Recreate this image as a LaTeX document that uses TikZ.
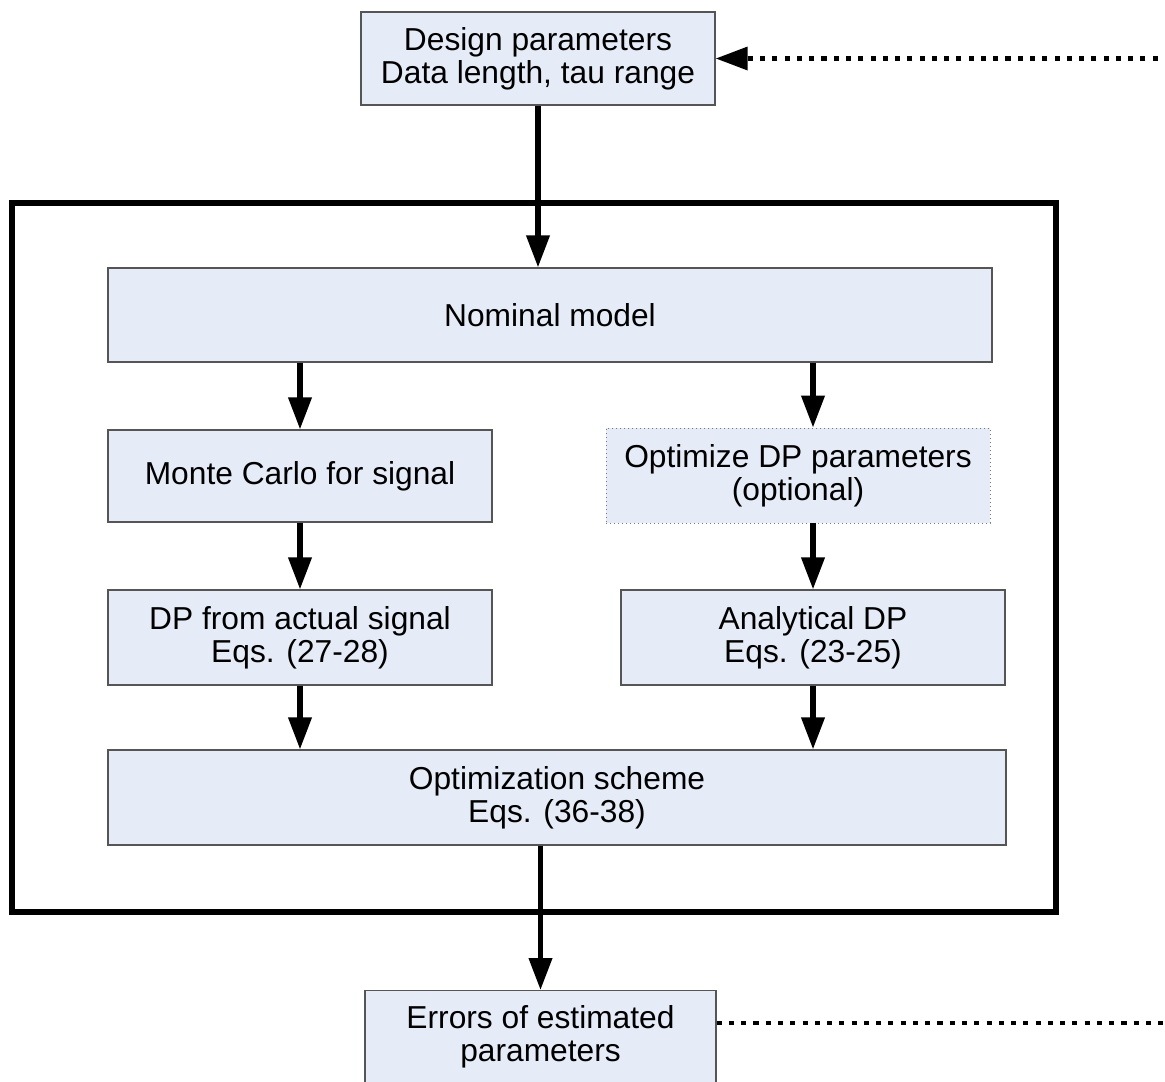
\documentclass[tikz,border=0pt]{standalone}
\usepackage{fontspec}
\setmainfont{Liberation Sans}
\usetikzlibrary{arrows.meta,calc}
\definecolor{boxfill}{RGB}{230,236,247}
\definecolor{boxline}{RGB}{85,85,85}
\begin{document}
\begin{tikzpicture}[x=0.75pt,y=-0.75pt,
  box/.style={draw=boxline,line width=1pt,fill=boxfill,align=center,
    inner sep=0pt,font=\fontsize{23.8pt}{24.5pt}\selectfont},
  dotbox/.style={box,draw=boxline!80,dotted,line width=0.7pt},
  txt/.style={align=center,inner sep=0pt,font=\fontsize{23.8pt}{24.5pt}\selectfont},
  arr/.style={line width=3.8pt,-{Triangle[length=24pt,width=17pt]}},
  dotline/.style={line width=3.4pt,dash pattern=on 3.8pt off 5.4pt},
  dotarr/.style={dotline,-{Triangle[length=24pt,width=17pt]}},
  outer/.style={line width=3.9pt,draw=black}
]
\useasboundingbox (0,0) rectangle (1165,1082);
\fill[white] (0,0) rectangle (1165,1082);

% outer frame
\draw[outer] (12,203) rectangle (1056,912);

% boxes
\node[box,minimum width=265.5pt,minimum height=69.75pt] (top) at (538,58.5)
  {Design parameters\\Data length, tau range};
\node[box,minimum width=663pt,minimum height=70.5pt] (nom) at (550,315)
  {Nominal model};
\node[box,minimum width=288pt,minimum height=69pt] (mc) at (300,476)
  {Monte Carlo for signal};
\node[dotbox,minimum width=288pt,minimum height=71.25pt] (opt) at (798,475.5)
  {Optimize DP parameters\\(optional)};
\node[box,minimum width=288pt,minimum height=71.25pt] (dpa) at (300,637.5)
  {DP from actual signal\hspace{0.3em}\\Eqs. (27-28)};
\node[box,minimum width=288pt,minimum height=71.25pt] (ana) at (813,637.5)
  {Analytical DP\hspace{0.4em}\\Eqs. (23-25)};
\node[box,minimum width=673.5pt,minimum height=71.25pt] (osch) at (557,797.5)
  {Optimization scheme\\Eqs. (36-38)};
\node[box,minimum width=263.25pt,minimum height=82.5pt,anchor=north] (err) at (540.5,990) {};
\node[txt] (errt) at (540.5,1036.5) {Errors of estimated\\parameters};

% connectors
\draw[arr] (top.south) -- (top.south |- nom.north);
\draw[arr] (mc.north |- nom.south) -- (mc.north);
\draw[arr] (ana.north |- nom.south) -- (ana.north |- opt.north);
\draw[arr] (mc.south) -- (dpa.north);
\draw[arr] (ana.north |- opt.south) -- (ana.north);
\draw[arr] (dpa.south) -- (dpa.south |- osch.north);
\draw[arr] (ana.south) -- (ana.south |- osch.north);
\draw[arr] (err.north |- osch.south) -- (err.north);

% feedback dotted lines
\coordinate (rt) at (1170,58.5);
\coordinate (rb) at (1170,1023);
\draw[dotarr] (rt) -- (top.east);
\draw[dotline] (err.east |- rb) -- (rb);
\end{tikzpicture}
\end{document}
